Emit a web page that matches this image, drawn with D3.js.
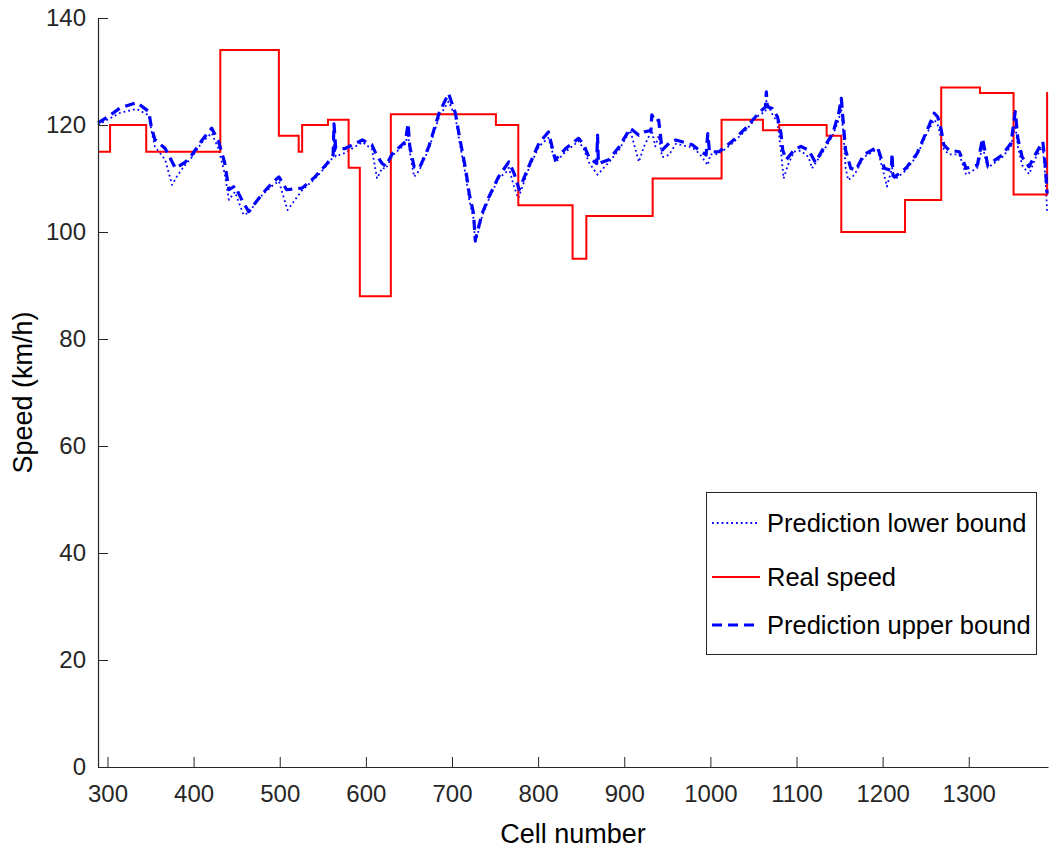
<!DOCTYPE html>
<html><head><meta charset="utf-8">
<script src="https://cdn.jsdelivr.net/npm/d3@7"></script>
<style>body{margin:0;background:#fff}svg{display:block}text{font-family:"Liberation Sans",Arial,Helvetica,sans-serif}</style>
</head><body>
<script>
// ---------- data ----------
const realCells = [289,303,345,431,499,522,526,556,580,593,629,751,777,840,856,933,1013,1061,1080,1135,1152,1226,1268,1313,1352,1391,1392];
const realSpeed = [115,120,115,134,118,115,120,121,112,88,122,120,105,95,103,110,121,119,120,118,100,106,127,126,107,126,126];

const upperCells = [289,300,315,334,348,351,355,367,379,390,398,410,421,429,436,441,448,456,464,472,480,491,499,508,526,541,555,562,563,565,576,596,607,612,619,623,631,646,649,651,656,662,673,685,696,704,708,716,720,725,727,735,743,754,766,772,778,789,801,812,820,832,847,853,859,868,869,870,882,894,907,917,923,931,932,936,940,944,952,960,979,987,995,997,999,1010,1025,1041,1056,1064,1065,1066,1072,1078,1082,1084,1088,1097,1105,1114,1122,1130,1142,1149,1152,1155,1157,1163,1169,1178,1194,1202,1210,1211,1212,1214,1227,1240,1250,1260,1264,1268,1271,1277,1289,1297,1310,1316,1322,1339,1349,1354,1357,1362,1370,1378,1386,1389,1391];
const upperSpeed = [120.4,121.5,123.2,124.2,122.5,119.5,117.3,115.6,111.9,113.0,114.4,117.2,119.4,116.9,113,107.9,108.6,106,103.8,105.5,107.2,109.1,110.3,107.9,108.2,110.3,112.8,114.4,120.2,115.6,115.6,117.2,116.3,114.5,112.8,112.3,114.7,116.9,120.3,116,112.2,111.9,115.9,122.2,125.9,122.2,118.4,111.6,107.2,103.5,98.5,103.5,106.6,110.3,113.1,111,107.9,112.2,116.6,118.7,113.5,115.6,117.5,116.3,114,112.8,118.1,112.8,113.5,115.9,119.4,118.1,118.7,119,121.9,120.6,120.9,115.3,116.6,117.2,116.3,115.3,114.4,118.4,115,115,116.9,119.4,122.2,123.4,126.2,123.4,123.1,121.5,118.4,115.3,113.5,115.3,116,115.3,113,115.3,118.4,122.2,125,119.1,115.3,111.9,111.6,114.4,115.9,111.9,111.5,114.7,110.5,110.3,111.9,114.7,118.4,122.2,121.5,119.1,116.3,115.3,115,111.9,112.5,117.5,112.5,114.4,116.6,122.5,117.5,114,112.2,114.7,116.9,112.2,107.2];

const lowerCells = [289,300,315,334,348,351,355,367,375,381,390,398,410,421,429,436,441,448,458,464,472,480,491,499,509,520,526,541,555,562,563,565,576,596,607,613,619,623,631,646,649,651,656,662,673,685,696,704,708,716,720,725,727,735,743,754,763,766,772,777,789,801,812,820,832,847,853,859,869,882,894,907,917,923,932,936,940,944,952,960,979,987,997,1000,1010,1025,1041,1056,1064,1065,1072,1078,1082,1085,1090,1097,1105,1114,1118,1130,1142,1149,1152,1155,1157,1160,1166,1169,1178,1194,1202,1205,1211,1214,1227,1240,1250,1260,1264,1268,1271,1277,1289,1297,1310,1316,1322,1339,1349,1354,1357,1362,1370,1378,1386,1389,1391];
const lowerSpeed = [120,121,122.3,123,121.8,119,116,113.5,108.8,110.5,112.5,114,116.8,118.5,115.5,111,106,107.5,103.2,103.6,105.4,107,108.6,109.5,104.1,106.5,107.8,110,112.5,114,117,114.1,114.8,116.8,115.5,110,112,111.8,114.3,116.5,118.5,115,110.3,111.5,115.5,121.5,124.4,121.5,117.5,110.5,106,102.5,97.8,103,106.2,110,111.2,112,108.5,106.3,111.8,116,117.6,113,115,117,115.5,113,110.7,113,115.4,119,113.1,116,119,116,118,114,114.4,116.5,115.8,114.7,112.5,114.5,114.6,116.5,119,121.8,122.5,124.5,122,120.5,115,110,112.5,115,115.2,114,111.9,114.8,118,121,123,117,112,109.7,110.5,111.2,114,115.5,110.5,108.5,112,109.8,111.5,114.3,118,121,120,117.5,115.5,114.5,114.5,110.7,112,116,112,114,116,120,116,112.5,110.8,114,116,110,103.8];

const xTicks = [300,400,500,600,700,800,900,1000,1100,1200,1300];
const yTicks = [0,20,40,60,80,100,120,140];
const seriesNames = ["Prediction lower bound","Real speed","Prediction upper bound"];

// ---------- layout ----------
const W = 1049, H = 855;
const L = 98, R = 1048, T = 18, B = 767;
const svg = d3.select("body").append("svg").attr("width", W).attr("height", H);
const x = d3.scaleLinear().domain([289, 1392]).range([L, R]);
const y = d3.scaleLinear().domain([0, 140]).range([B, T]);
const axisColor = "#262626";

const zip = (a, b) => a.map((c, i) => [c, b[i]]);
const lineLin = d3.line().x(d => x(d[0])).y(d => y(d[1]));
const lineStep = d3.line().x(d => x(d[0])).y(d => y(d[1])).curve(d3.curveStepAfter);

const plot = svg.append("g");
plot.append("path").datum(zip(lowerCells, lowerSpeed)).attr("d", lineLin)
  .attr("fill", "none").attr("stroke", "#0000ff").attr("stroke-width", 1.8)
  .attr("stroke-dasharray", "1.8,3").attr("stroke-linejoin", "round");
plot.append("path").datum(zip(realCells, realSpeed)).attr("d", lineStep)
  .attr("fill", "none").attr("stroke", "#ff0000").attr("stroke-width", 2);
plot.append("path").datum(zip(upperCells, upperSpeed)).attr("d", lineLin)
  .attr("fill", "none").attr("stroke", "#0000ff").attr("stroke-width", 3.2)
  .attr("stroke-dasharray", "10,6").attr("stroke-linejoin", "round");

// axes
const fmt = d3.format("d");
const xAxis = d3.axisBottom(x).tickValues(xTicks).tickFormat(fmt).tickSizeInner(-10).tickSizeOuter(0).tickPadding(18);
const yAxis = d3.axisLeft(y).tickValues(yTicks).tickFormat(fmt).tickSizeInner(-10).tickSizeOuter(0).tickPadding(12);
const gx = svg.append("g").attr("transform", `translate(0,${B})`).call(xAxis);
const gy = svg.append("g").attr("transform", `translate(${L},0)`).call(yAxis);
[gx, gy].forEach(g => {
  g.select(".domain").attr("stroke", axisColor).attr("stroke-width", 1.2);
  g.selectAll(".tick line").attr("stroke", axisColor).attr("stroke-width", 1);
  g.selectAll(".tick text").attr("fill", axisColor).style("font-size", "24px")
   .style("font-family", '"Liberation Sans",Arial,sans-serif');
});

svg.append("text").attr("x", (L + R) / 2).attr("y", 843).attr("text-anchor", "middle")
  .attr("fill", "#000").style("font-size", "27px").text("Cell number");
svg.append("text").attr("transform", `translate(32,${(T + B) / 2}) rotate(-90)`)
  .attr("text-anchor", "middle").attr("fill", "#000").style("font-size", "27px").text("Speed (km/h)");

// legend
const lg = svg.append("g");
lg.append("rect").attr("x", 706.5).attr("y", 492.5).attr("width", 330).attr("height", 162)
  .attr("fill", "#fff").attr("stroke", axisColor).attr("stroke-width", 1);
const legY = [523, 577, 625];
const styles = [
  {w: 1.8, d: "1.8,3"},
  {w: 2, d: null},
  {w: 3.2, d: "10,6"}
];
const colors = ["#0000ff", "#ff0000", "#0000ff"];
seriesNames.forEach((n, i) => {
  const ln = lg.append("line").attr("x1", 712).attr("x2", 760).attr("y1", legY[i]).attr("y2", legY[i])
    .attr("stroke", colors[i]).attr("stroke-width", styles[i].w);
  if (styles[i].d) ln.attr("stroke-dasharray", styles[i].d);
  lg.append("text").attr("x", 767).attr("y", legY[i]).attr("dy", "0.36em")
    .attr("fill", "#000").style("font-size", "25.5px").text(n);
});
</script>
</body></html>
